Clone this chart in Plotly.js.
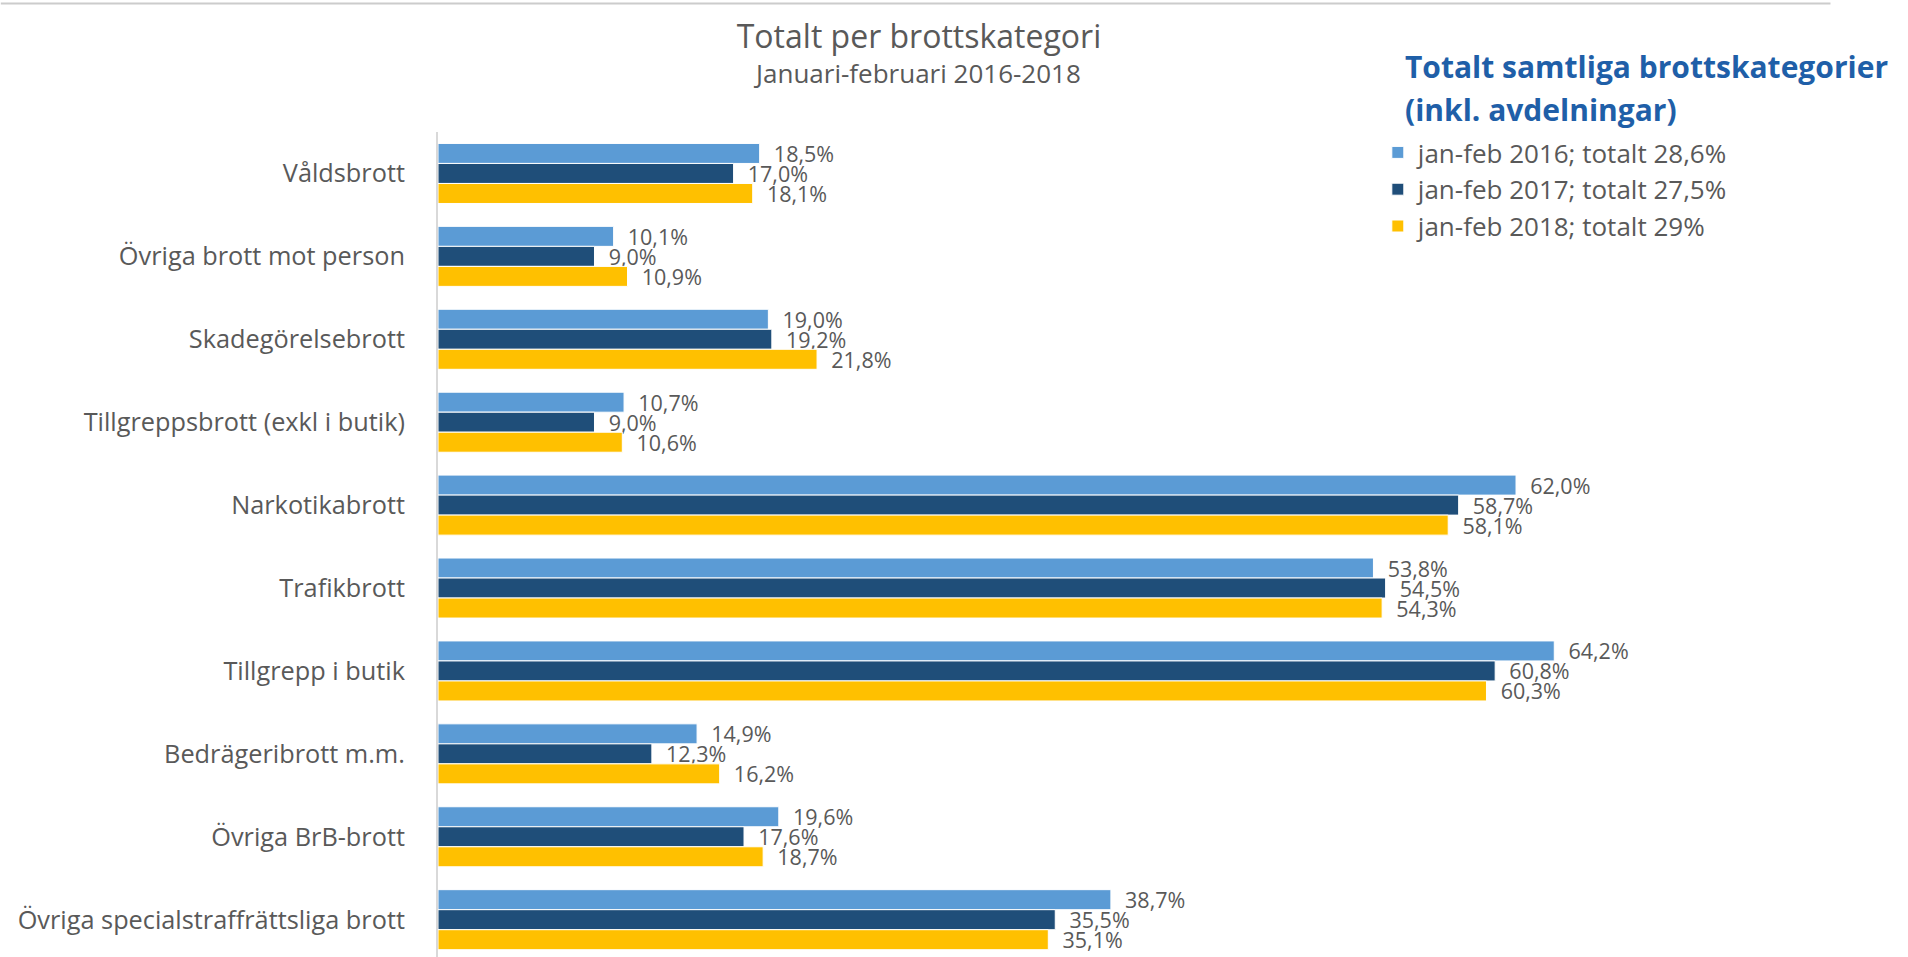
<!DOCTYPE html>
<html>
<head>
<meta charset="utf-8">
<script src="https://cdn.plot.ly/plotly-3.0.1.min.js"></script>
<style>
  html, body { margin: 0; padding: 0; overflow: hidden; background: #ffffff; }
  #chart { width: 1908px; height: 957px; }
</style>
</head>
<body>
<div id="chart"></div>
<script>
const categories = [
  "Våldsbrott",
  "Övriga brott mot person",
  "Skadegörelsebrott",
  "Tillgreppsbrott (exkl i butik)",
  "Narkotikabrott",
  "Trafikbrott",
  "Tillgrepp i butik",
  "Bedrägeribrott m.m.",
  "Övriga BrB-brott",
  "Övriga specialstraffrättsliga brott"
];
const values2016 = [18.5, 10.1, 19.0, 10.7, 62.0, 53.8, 64.2, 14.9, 19.6, 38.7];
const values2017 = [17.0, 9.0, 19.2, 9.0, 58.7, 54.5, 60.8, 12.3, 17.6, 35.5];
const values2018 = [18.1, 10.9, 21.8, 10.6, 58.1, 54.3, 60.3, 16.2, 18.7, 35.1];
const seriesNames = [
  "jan-feb 2016; totalt 28,6%",
  "jan-feb 2017; totalt 27,5%",
  "jan-feb 2018; totalt 29%"
];
const chartTitle = "Totalt per brottskategori";
const chartSubtitle = "Januari-februari 2016-2018";
const legendHeading = ["Totalt samtliga brottskategorier", "(inkl. avdelningar)"];

const colors = ["#5B9BD5", "#1F4E79", "#FFC000"];
const textColor = "#595959";
const fontFamily = "'Open Sans', 'Noto Sans', sans-serif";

const allValues = [values2016, values2017, values2018];
const traces = allValues.map((vals, i) => ({
  type: "bar",
  orientation: "h",
  name: seriesNames[i],
  y: categories,
  x: vals,
  marker: { color: colors[i], line: { color: "#ffffff", width: 1 } },
  texttemplate: "\u00a0\u00a0%{x:.1f}%",
  textposition: "outside",
  constraintext: "none",
  cliponaxis: false,
  textfont: { family: fontFamily, size: 21.5, color: textColor },
  hoverinfo: "skip"
}));

const L = 437.5, T = 132, PW = 1392, PH = 825;
function px2paperX(px) { return (px - L) / PW; }
function px2paperY(py) { return 1 + (T - py) / PH; }

const layout = {
  width: 1908,
  height: 957,
  margin: { l: L, r: 1908 - L - PW, t: T, b: 957 - T - PH, pad: 0 },
  paper_bgcolor: "#ffffff",
  plot_bgcolor: "#ffffff",
  separators: ", ",
  font: { family: fontFamily, color: textColor },
  barmode: "group",
  bargap: 0.276,
  bargroupgap: 0,
  title: {
    text: chartTitle,
    font: { family: fontFamily, size: 32, color: textColor },
    x: 919 / 1908,
    xanchor: "center",
    xref: "container",
    yref: "container",
    y: 1 - 37 / 957,
    yanchor: "middle"
  },
  xaxis: {
    range: [0, 80],
    visible: false,
    showgrid: false,
    zeroline: false,
    fixedrange: true
  },
  yaxis: {
    type: "category",
    range: [9.45, -0.5],
    showline: true,
    linecolor: "#d9d9d9",
    linewidth: 2,
    ticks: "",
    showgrid: false,
    ticklabelstandoff: 26,
    tickfont: { family: fontFamily, size: 25.3, color: textColor },
    fixedrange: true
  },
  showlegend: true,
  legend: {
    x: px2paperX(1378),
    xanchor: "left",
    y: px2paperY(129),
    yanchor: "top",
    traceorder: "normal",
    font: { family: fontFamily, size: 26, color: textColor },
    bgcolor: "rgba(0,0,0,0)",
    itemclick: false,
    itemdoubleclick: false
  },
  annotations: legendHeading.map((t, i) => ({
    text: "<b>" + t + "</b>",
    xref: "paper", yref: "paper",
    x: px2paperX(1403), xanchor: "left",
    y: px2paperY(i === 0 ? 67 : 109), yanchor: "middle",
    showarrow: false,
    font: { family: fontFamily, size: 30, color: "#1F5FA8" }
  })).concat([{
    text: chartSubtitle,
    xref: "paper", yref: "paper",
    x: px2paperX(917), xanchor: "center",
    y: px2paperY(73), yanchor: "middle",
    showarrow: false,
    font: { family: fontFamily, size: 26, color: textColor }
  }]),
  shapes: [{
    type: "line",
    xref: "paper", yref: "paper",
    x0: px2paperX(0), x1: px2paperX(1831),
    y0: px2paperY(3.5), y1: px2paperY(3.5),
    line: { color: "#cccccc", width: 2 }
  }]
};

Plotly.newPlot("chart", traces, layout, { displayModeBar: false, staticPlot: false });
</script>
</body>
</html>
